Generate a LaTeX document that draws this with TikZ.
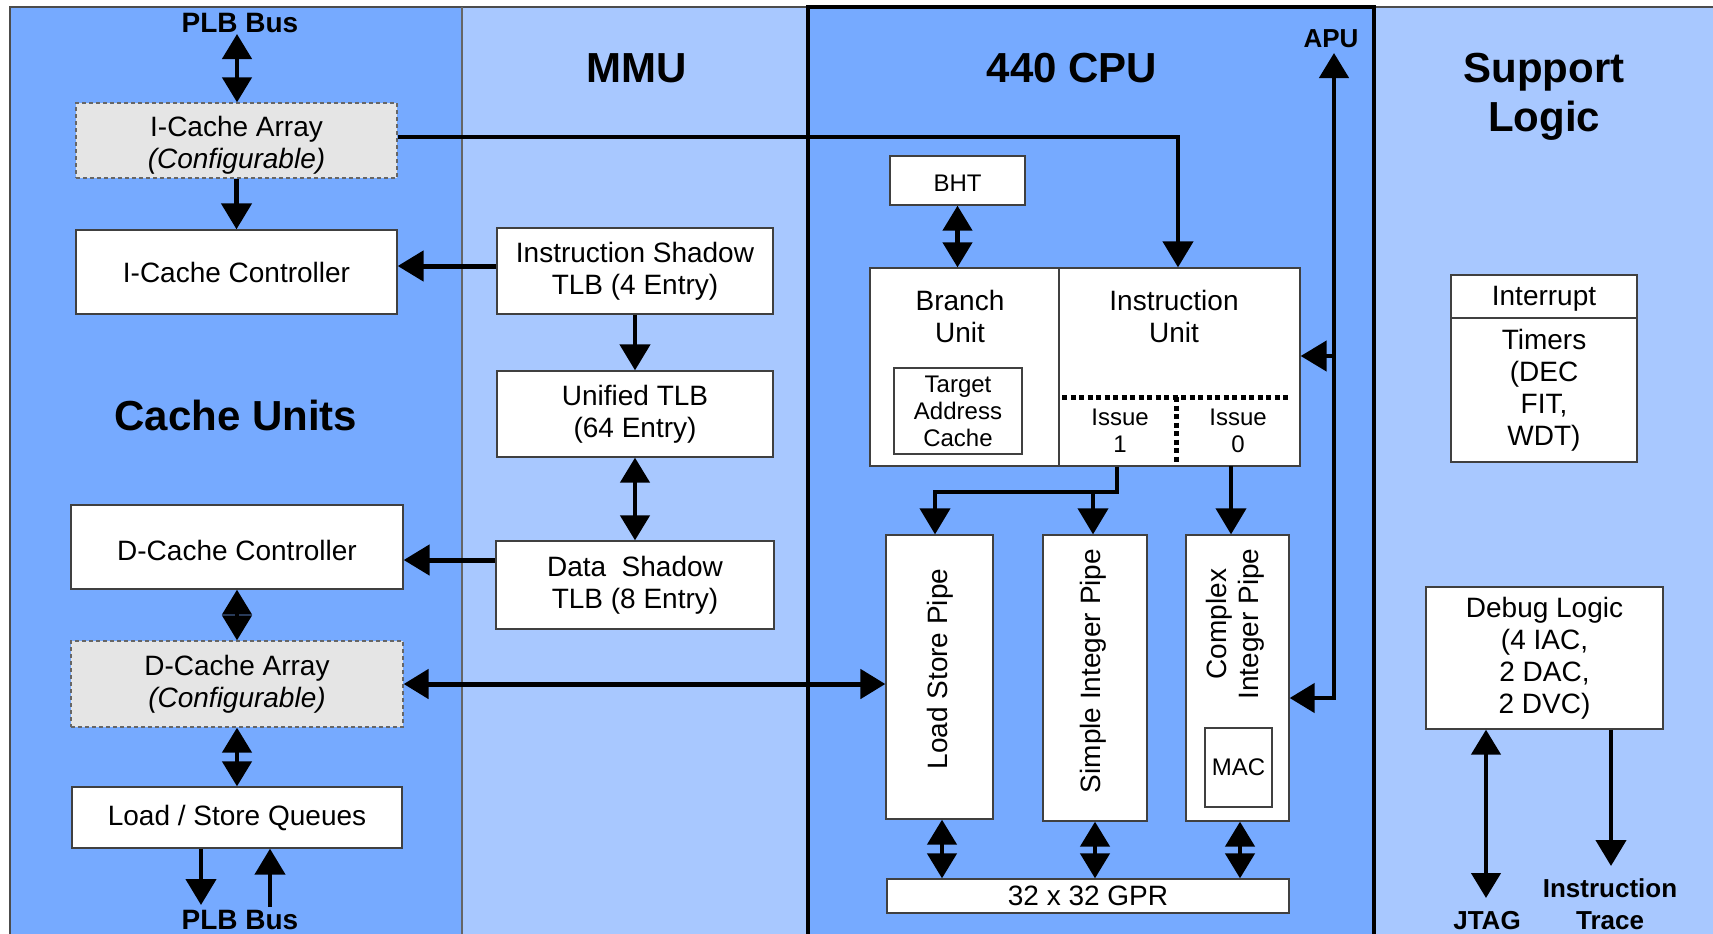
\documentclass[tikz,border=0pt]{standalone}
\usepackage{fontspec}
\setmainfont{Liberation Sans}
\usetikzlibrary{arrows.meta}
\definecolor{midblue}{RGB}{118,170,255}
\definecolor{lightblue}{RGB}{168,200,255}
\definecolor{cachegray}{RGB}{229,229,229}
\newcommand\fsBox{\fontsize{28bp}{32bp}\selectfont}
\newcommand\fsSmall{\fontsize{24bp}{27bp}\selectfont}
\newcommand\fsTitle{\fontsize{42bp}{49bp}\selectfont\bfseries}
\newcommand\fsLabel{\fontsize{26bp}{32bp}\selectfont\bfseries}
\newcommand\fsBus{\fontsize{28bp}{32bp}\selectfont\bfseries}
\begin{document}
\begin{tikzpicture}[x=1bp,y=-1bp,
  blk/.style={draw=black!75, line width=1.3bp, fill=white, inner sep=0pt, align=center, font=\fsBox},
  cfg/.style={blk, fill=cachegray, draw=black!60, dash pattern=on 4bp off 3bp},
  txt/.style={inner sep=0pt, align=center, font=\fsBox},
  stxt/.style={inner sep=0pt, align=center, font=\fsSmall},
  ttl/.style={inner sep=0pt, align=center, font=\fsTitle},
  lbl/.style={inner sep=0pt, align=center, font=\fsLabel},
  conn/.style={line width=4.5bp, -{Triangle[length=26bp,width=30bp]}},
  dconn/.style={line width=4.5bp, {Triangle[length=25bp,width=29bp]}-{Triangle[length=25bp,width=29bp]}},
  dotl/.style={line width=5bp, dash pattern=on 5bp off 3.5bp},
]
\useasboundingbox (0,0) rectangle (1713,933);
\clip (0,0) rectangle (1713,933);
% panels
\fill[midblue] (10,7) rectangle (462,945);
\fill[lightblue] (462,7) rectangle (808,945);
\fill[midblue] (808,7) rectangle (1374,945);
\fill[lightblue] (1374,7) rectangle (1720,945);
\draw[black!70, line width=2bp] (10,945) -- (10,7) -- (1720,7);
\draw[black!60, line width=1.3bp] (462,7) -- (462,945);
\draw[black, line width=3.5bp] (808,945) -- (808,7) -- (1374,7) -- (1374,945);
% titles
\node[ttl, anchor=base] (tcache) at (236,430) {Cache Units};
\node[ttl, anchor=base] (tmmu) at (637,82) {MMU};
\node[ttl, anchor=base] (tcpu) at (1072,82) {440 CPU};
\node[ttl] (tsup) at (1544,97) {Support\\Logic};
% labels
\node[lbl, font=\fsBus, anchor=base] (plbtop) at (240,32) {PLB Bus};
\node[lbl, font=\fsBus, anchor=base] (plbbot) at (240,929) {PLB Bus};
\node[lbl, anchor=base] (apu) at (1331,47) {APU};
\node[lbl, anchor=base] (jtag) at (1487,929) {JTAG};
\node[lbl, anchor=base] (itrace) at (1610,929) {Instruction\\Trace};
% cache units
\node[cfg, minimum width=321bp, minimum height=75bp] (icarr) at (236.5,140.5) {};
\node[txt] (icarrtxt) at (236.5,145) {I-Cache Array\\\textit{(Configurable)}};
\node[blk, minimum width=321bp, minimum height=84bp] (icctl) at (236.5,272) {I-Cache Controller};
\node[blk, minimum width=332bp, minimum height=84bp] (dcctl) at (237,547) {};
\node[txt] (dcctltxt) at (237,550) {D-Cache Controller};
\node[cfg, minimum width=332bp, minimum height=86bp] (dcarr) at (237,684) {D-Cache Array\\\textit{(Configurable)}};
\node[blk, minimum width=330bp, minimum height=61bp] (lsq) at (237,817.5) {Load / Store Queues};
% MMU
\node[blk, minimum width=276bp, minimum height=86bp] (istlb) at (635,271) {Instruction Shadow\\TLB (4 Entry)};
\node[blk, minimum width=276bp, minimum height=86bp] (utlb) at (635,414) {Unified TLB\\(64 Entry)};
\node[blk, minimum width=278bp, minimum height=88bp] (dstlb) at (635,585) {Data\ \ Shadow\\TLB (8 Entry)};
% CPU
\node[blk, font=\fsSmall, minimum width=135bp, minimum height=49bp] (bht) at (957.5,180.5) {};
\node[stxt] (bhttxt) at (957.5,183) {BHT};
\node[blk, minimum width=189bp, minimum height=198bp] (bru) at (964.5,367) {};
\node[txt] (brutxt) at (960,316) {Branch\\Unit};
\node[blk, font=\fsSmall, minimum width=128bp, minimum height=86bp] (tac) at (958,411) {Target\\Address\\Cache};
\node[blk, minimum width=241bp, minimum height=198bp] (iu) at (1179.5,367) {};
\node[txt] (iutxt) at (1174,316) {Instruction\\Unit};
\draw[dotl] (1062,397) -- (1290,397);
\draw[dotl] (1176,397) -- (1176,462);
\node[stxt] (iss1) at (1120,431) {Issue\\1};
\node[stxt] (iss0) at (1238,431) {Issue\\0};
\node[blk, minimum width=107bp, minimum height=284bp] (lsp) at (939.5,677) {};
\node[txt, rotate=90] (lsptxt) at (940,669) {Load Store Pipe};
\node[blk, minimum width=104bp, minimum height=286bp] (sip) at (1095,678) {};
\node[txt, rotate=90] (siptxt) at (1093,671) {Simple Integer Pipe};
\node[blk, minimum width=103bp, minimum height=286bp] (cip) at (1237.5,678) {};
\node[txt, rotate=90] (ciptxt) at (1235,624) {Complex\\Integer Pipe};
\node[blk, font=\fsSmall, minimum width=67bp, minimum height=79bp] (mac) at (1238.5,767.5) {MAC};
\node[blk, minimum width=402bp, minimum height=34bp] (gpr) at (1088,896) {32 x 32 GPR};
% support
\node[blk, minimum width=186bp, minimum height=43bp] (intr) at (1544,296.5) {};
\node[txt] (intrtxt) at (1544,298.5) {Interrupt};
\node[blk, minimum width=186bp, minimum height=144bp] (tmr) at (1544,390) {Timers\\(DEC\\FIT,\\WDT)};
\node[blk, minimum width=237bp, minimum height=142bp] (dbg) at (1544.5,658) {Debug Logic\\(4 IAC,\\2 DAC,\\2 DVC)};
% coordinates
\coordinate (plbt) at (237,34);
\coordinate (icturn) at (1178,137);
\coordinate (isarr) at (450,266);
\coordinate (dsarr) at (450,560);
\coordinate (lsqd) at (201,905);
\coordinate (lsqu) at (270,907);
\coordinate (j1) at (1117,492);
\coordinate (j1b) at (1093,492);
\coordinate (i0) at (1231,466);
\coordinate (apuc) at (1334,698);
\coordinate (aputop) at (1334,53);
\coordinate (apuiu) at (1334,356);
\coordinate (jt) at (1486,898);
\coordinate (it) at (1611,866);
% connectors cache
\draw[dconn] (plbt) -- (icarr.north -| plbt);
\draw[conn] (icarr.south) -- (icctl.north);
\draw[conn, line width=5bp] (istlb.west |- isarr) -- (icctl.east |- isarr);
\draw[conn] (istlb.south) -- (utlb.north);
\draw[dconn] (utlb.south) -- (dstlb.north);
\draw[conn, line width=5bp] (dstlb.west |- dsarr) -- (dcctl.east |- dsarr);
\draw[dconn] (dcctl.south) -- (dcarr.north);
\draw[dconn] (dcarr.south) -- (lsq.north);
\draw[conn] (lsq.south -| lsqd) -- (lsqd);
\draw[conn] (lsqu) -- (lsq.south -| lsqu);
\draw[dconn, line width=5bp] (dcarr.east) -- (dcarr.east -| lsp.west);
\draw[conn] (icarr.east |- icturn) -- (icturn) -- (icturn |- iu.north);
% cpu
\draw[dconn] (bht.south) -- (bht.south |- bru.north);
\draw[conn, line width=4bp] (iu.south -| j1) -- (j1) -- (j1 -| 935,0) -- (lsp.north -| 935,0);
\draw[conn, line width=4bp] (j1b) -- (sip.north -| j1b);
\draw[conn, line width=4bp] (i0) -- (cip.north -| i0);
\draw[dconn] (cip.east |- apuc) -- (apuc) -- (aputop);
\draw[conn] (apuiu) -- (apuiu -| iu.east);
\draw[dconn] (lsp.south -| 942,0) -- (gpr.north -| 942,0);
\draw[dconn] (sip.south) -- (gpr.north -| sip.south);
\draw[dconn] (cip.south -| 1240,0) -- (gpr.north -| 1240,0);
% support
\draw[dconn] (dbg.south -| jt) -- (jt);
\draw[conn] (dbg.south -| it) -- (it);
\end{tikzpicture}
\end{document}
